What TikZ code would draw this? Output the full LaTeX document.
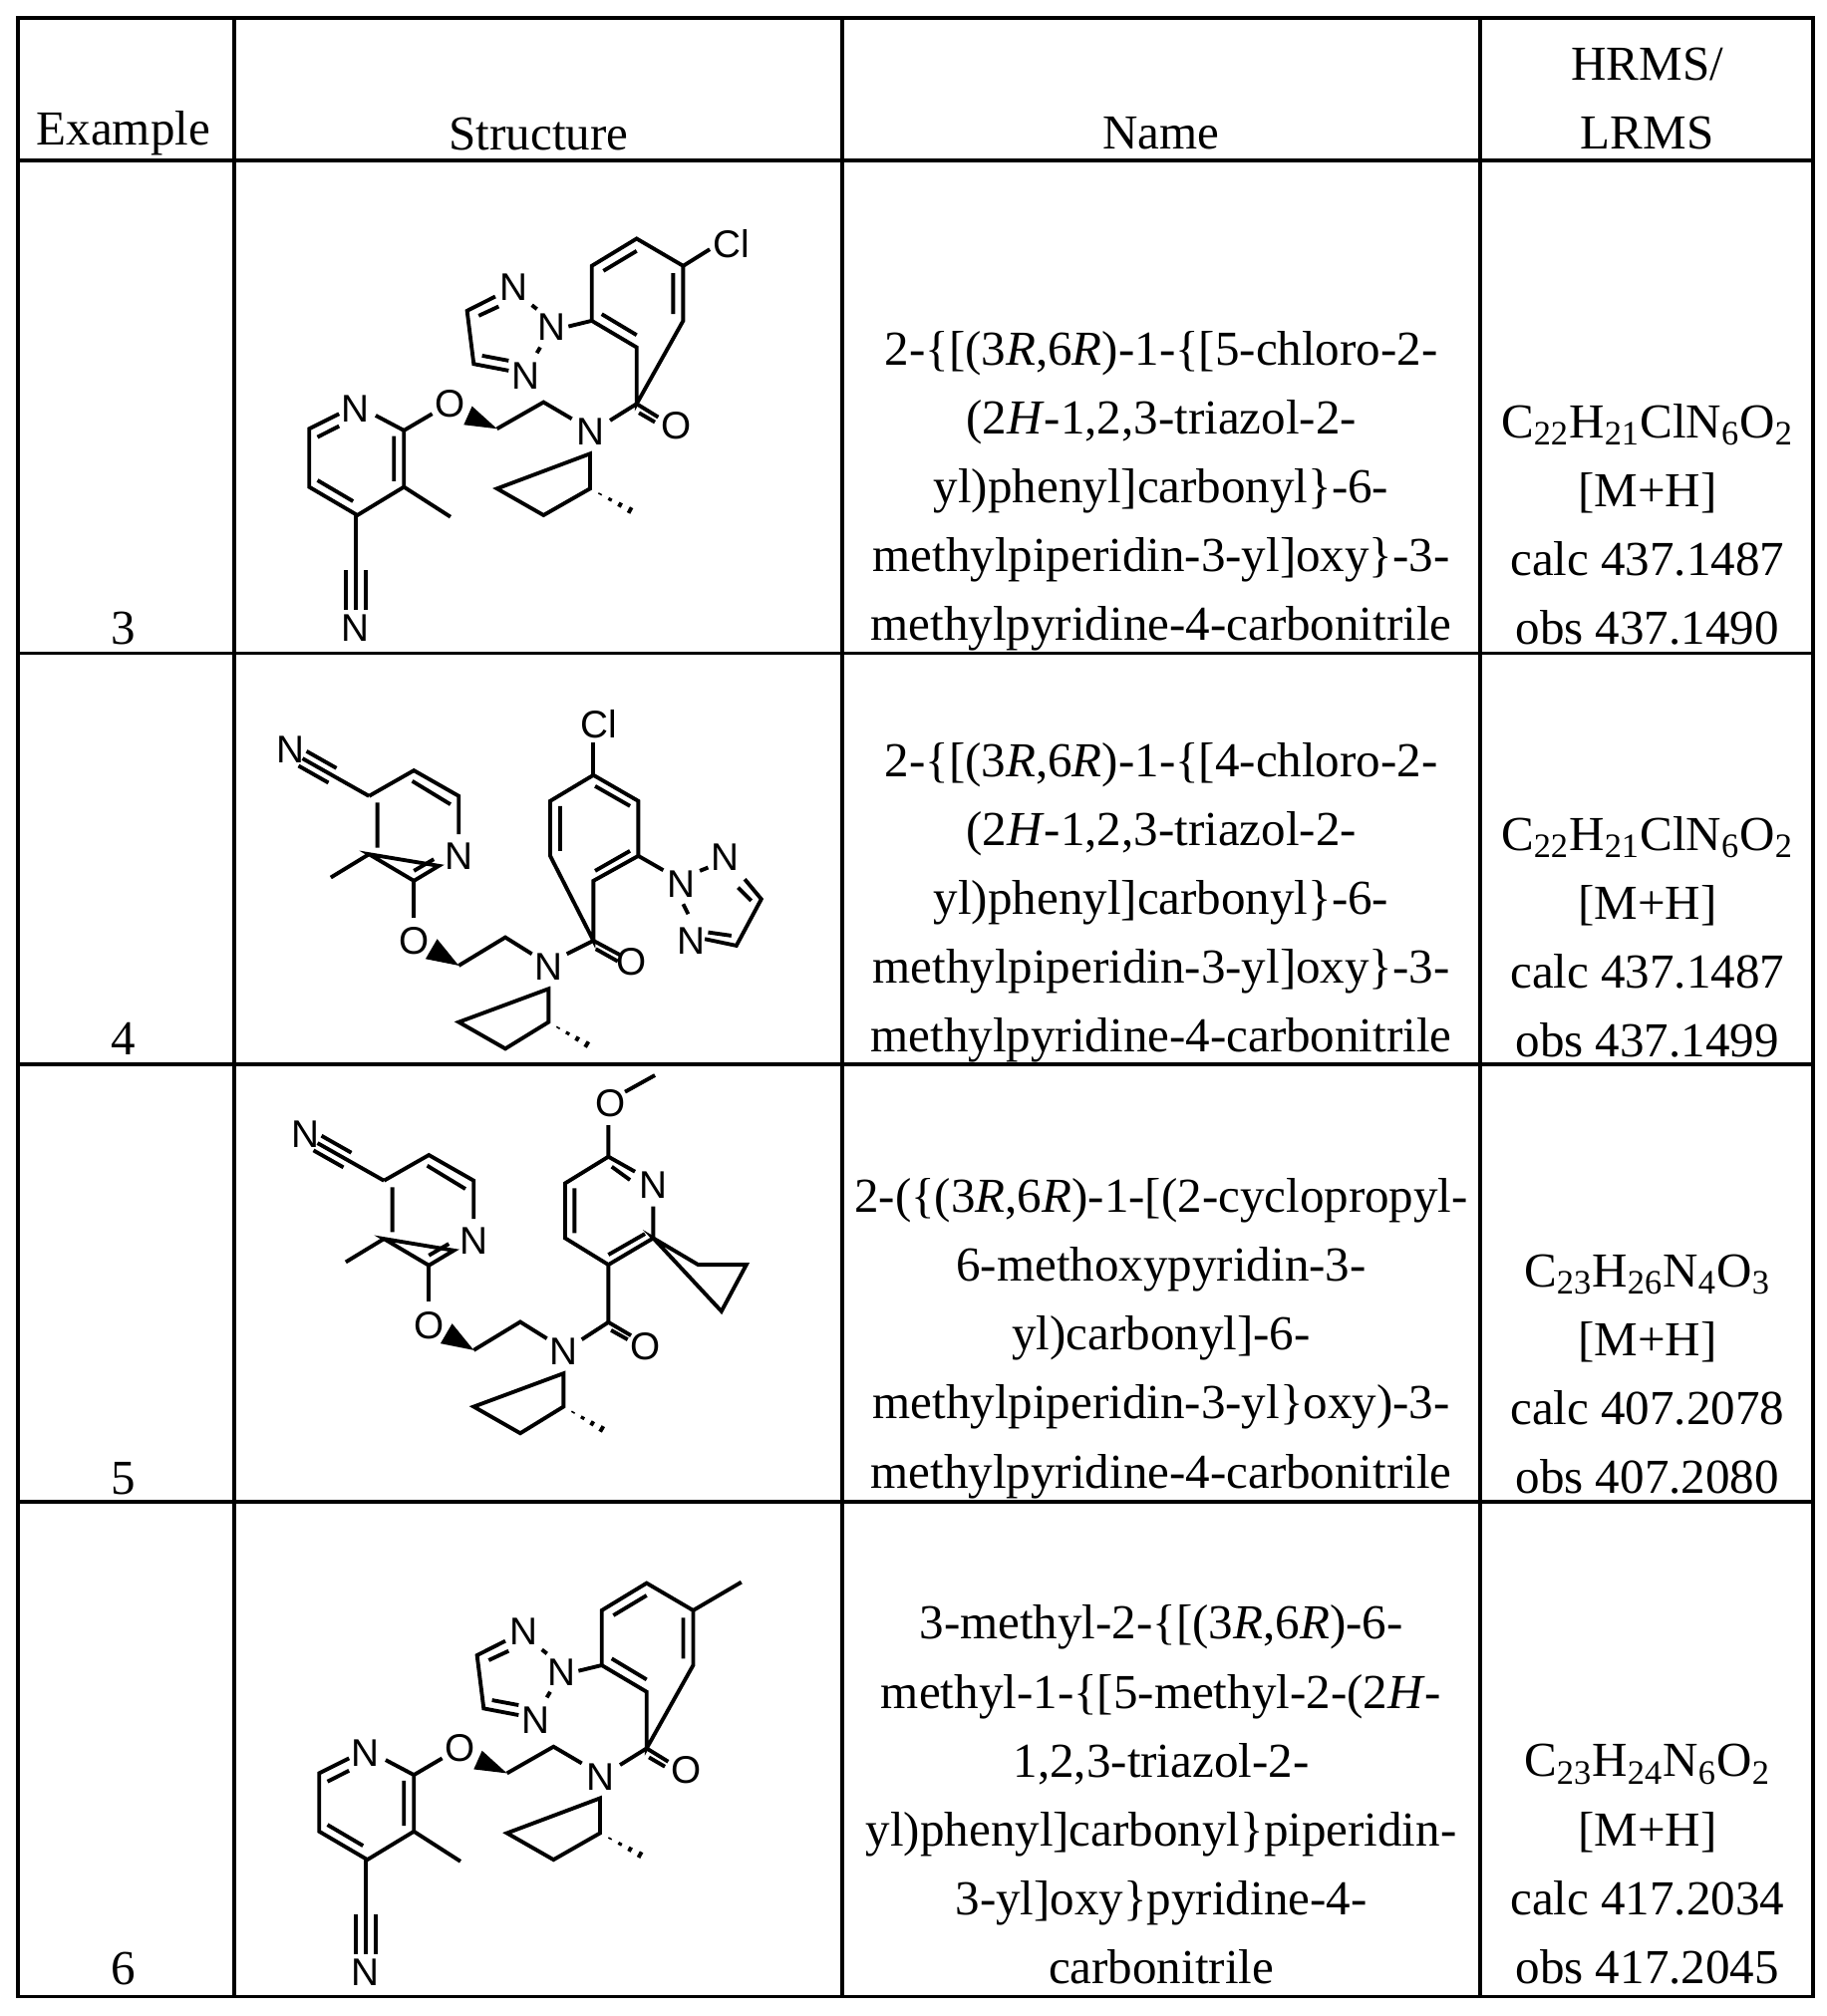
\documentclass[tikz,border=0pt]{standalone}
\usepackage{fontspec}
\setmainfont{Liberation Serif}
\newfontfamily\chemfont{Liberation Sans}
\usetikzlibrary{calc}
\newcommand\hashb[2]{\foreach \t in {0.25,0.5,0.75,1.0}{\coordinate (hP) at ($(#1)!\t!(#2)$); \draw ($(hP)!{\t*4.8pt}!90:(#1)$) -- ($(hP)!{\t*4.8pt}!-90:(#1)$);}}
% row 3 / row 6 molecule (without para substituent)
\newcommand\molA{%
 \node[atom] at (230,630) {N};
 \draw (290,650)--(375,695)--(375,865)--(235,950)--(90,865)--(90,690)--(180,645);
 \draw (345,712)--(345,848) (115,845)--(222,908) (115,715)--(180,682);
 \draw (375,865)--(515,955);
 \draw (230,950)--(230,1235) (200,1115)--(200,1235) (260,1115)--(260,1235);
 \node[atom] at (230,1290) {N};
 \draw (375,695)--(460,645);
 \node[atom] at (515,615) {O};
 \fill (655,690)--(555,678)--(580,622)--cycle;
 \draw (655,690)--(795,610)--(880,660) (935,765)--(935,870)--(795,950)--(655,870)--cycle;
 \node[atom] at (935,700) {N};
 \coordinate (c6) at (935,870); \coordinate (me) at (1055,935);
 \hashb{c6}{me}
 \draw (995,665)--(1075,615)--(1140,655) (1082,642)--(1130,670);
 \node[atom] at (1195,680) {O};
 \draw (1075,615)--(1075,445)--(940,365)--(940,200)--(1075,118)--(1215,200)--(1215,365)--cycle;
 \draw (970,345)--(1075,408) (975,215)--(1075,155) (1185,222)--(1185,345);
 \draw (940,365)--(870,382);
 \node[atom] at (820,385) {N};
 \node[atom] at (705,265) {N};
 \node[atom] at (740,530) {N};
 \draw (760,318)--(775,330) (785,445)--(775,462);
 \draw (650,292)--(565,335)--(585,495)--(690,515) (600,350)--(660,322) (610,470)--(690,485);
}
% rows 4 / 5 left part (pyridine + piperidine)
\newcommand\molB{%
 \draw (330,325)--(465,248)--(600,325)--(600,440) (540,535)--(465,580)--(330,500)--cycle;
 \draw (460,280)--(575,350) (465,550)--(525,515) (355,345)--(355,480);
 \node[atom] at (600,505) {N};
 \draw (330,500)--(215,570);
 \draw (330,325)--(130,212) (232,241)--(142,190) (208,285)--(118,234);
 \node[atom] at (95,185) {N};
 \draw (465,580)--(465,690);
 \node[atom] at (465,760) {O};
 \fill (600,835)--(500,815)--(535,755)--cycle;
 \draw (600,835)--(740,750)--(820,800) (870,905)--(870,1005)--(740,1085)--(600,1005)--cycle;
 \node[atom] at (870,840) {N};
 \coordinate (c6) at (870,1005); \coordinate (me) at (985,1072);
 \hashb{c6}{me}
}
\begin{document}
\begin{tikzpicture}[x=0.5pt,y=-0.5pt,
  rule/.style={line width=1.4pt},
  bondst/.style={line width=1.5pt},
  atom/.style={font=\chemfont\fontsize{15}{15}\selectfont, inner sep=0pt},
  txt/.style={font=\fontsize{19}{26.8}\selectfont, align=center, inner sep=0pt}]
\useasboundingbox (0,0) rectangle (1420,1568);
\fill[white] (0,0) rectangle (1420,1568);
% table
\draw[rule] (14,14) rectangle (1410,1553);
\foreach \x in {182,655,1151} \draw[rule] (\x,14)--(\x,1553);
\foreach \y in {125,508,828,1168} \draw[rule] (14,\y)--(1410,\y);
% header
\node[txt] (hE) at (96,104) {Example};
\node[txt] (hS) at (419,104) {Structure};
\node[txt] (hN) at (903,104) {Name};
\node[txt] (hH) at (1281,77) {HRMS/\\LRMS};
% row 3
\node[txt] (e3) at (96,489) {3};
\node[txt] (n3) at (903,382) {2-\{[(3\textit{R},6\textit{R})-1-\{[5-chloro-2-\\(2\textit{H}-1,2,3-triazol-2-\\yl)phenyl]carbonyl\}-6-\\methylpiperidin-3-yl]oxy\}-3-\\methylpyridine-4-carbonitrile};
\node[txt] (m3) at (1281,408) {C\textsubscript{22}H\textsubscript{21}ClN\textsubscript{6}O\textsubscript{2}\\{}[M+H]\\calc 437.1487\\obs 437.1490};
% row 4
\node[txt] (e4) at (96,808) {4};
\node[txt] (n4) at (903,702) {2-\{[(3\textit{R},6\textit{R})-1-\{[4-chloro-2-\\(2\textit{H}-1,2,3-triazol-2-\\yl)phenyl]carbonyl\}-6-\\methylpiperidin-3-yl]oxy\}-3-\\methylpyridine-4-carbonitrile};
\node[txt] (m4) at (1281,729) {C\textsubscript{22}H\textsubscript{21}ClN\textsubscript{6}O\textsubscript{2}\\{}[M+H]\\calc 437.1487\\obs 437.1499};
% row 5
\node[txt] (e5) at (96,1150) {5};
\node[txt] (n5) at (903,1041) {2-(\{(3\textit{R},6\textit{R})-1-[(2-cyclopropyl-\\6-methoxypyridin-3-\\yl)carbonyl]-6-\\methylpiperidin-3-yl\}oxy)-3-\\methylpyridine-4-carbonitrile};
\node[txt] (m5) at (1281,1069) {C\textsubscript{23}H\textsubscript{26}N\textsubscript{4}O\textsubscript{3}\\{}[M+H]\\calc 407.2078\\obs 407.2080};
% row 6
\node[txt] (e6) at (96,1531) {6};
\node[txt] (n6) at (903,1396) {3-methyl-2-\{[(3\textit{R},6\textit{R})-6-\\methyl-1-\{[5-methyl-2-(2\textit{H}-\\1,2,3-triazol-2-\\yl)phenyl]carbonyl\}piperidin-\\3-yl]oxy\}pyridine-4-\\carbonitrile};
\node[txt] (m6) at (1281,1450) {C\textsubscript{23}H\textsubscript{24}N\textsubscript{6}O\textsubscript{2}\\{}[M+H]\\calc 417.2034\\obs 417.2045};
% structure 3
\begin{scope}[shift={(217.15,155.11)},scale=0.25853,bondst]
 \molA
 \draw (1215,200)--(1295,150);
 \node[atom] at (1360,135) {Cl};
\end{scope}
% structure 6
\begin{scope}[shift={(224.91,1200.81)},scale=0.25853,bondst]
 \molA
 \draw (1215,200)--(1360,115);
\end{scope}
% structure 4
\begin{scope}[shift={(201.64,535.13)},scale=0.25853,bondst]
 \molB
 \draw (925,800)--(1005,760)--(1085,803) (1012,785)--(1078,822);
 \node[atom] at (1120,825) {O};
 \draw (1005,760)--(1005,580)--(1140,505)--(1140,340)--(1005,262)--(875,340)--(875,505)--cycle;
 \draw (1010,550)--(1115,490) (1115,355)--(1010,295) (905,355)--(905,490);
 \draw (1005,262)--(1005,165);
 \node[atom] at (1020,110) {Cl};
 \draw (1140,505)--(1215,548);
 \node[atom] at (1270,590) {N};
 \node[atom] at (1400,510) {N};
 \node[atom] at (1300,760) {N};
 \draw (1325,550)--(1350,540) (1275,650)--(1290,680);
 \draw (1460,575)--(1510,635)--(1435,775)--(1340,755) (1440,600)--(1480,640) (1420,745)--(1350,735);
\end{scope}
% structure 5
\begin{scope}[shift={(213.27,834.24)},scale=0.25853,bondst]
 \molB
\end{scope}
\begin{scope}[shift={(201.64,829.84)},scale=0.25853,bondst]
 \draw (970,820)--(1050,768)--(1118,808) (1058,792)--(1108,820);
 \node[atom] at (1160,840) {O};
 \draw (1050,768)--(1050,595)--(920,515)--(920,350)--(1050,270)--(1130,315) (1185,420)--(1185,515)--(1050,595);
 \draw (1050,565)--(1160,502) (948,365)--(948,500) (1060,300)--(1115,340);
 \node[atom] at (1185,355) {N};
 \draw (1050,270)--(1050,175) (1100,75)--(1190,25);
 \node[atom] at (1055,110) {O};
 \draw (1185,515)--(1320,595)--(1465,595)--(1390,735)--cycle;
\end{scope}
\end{tikzpicture}
\end{document}
